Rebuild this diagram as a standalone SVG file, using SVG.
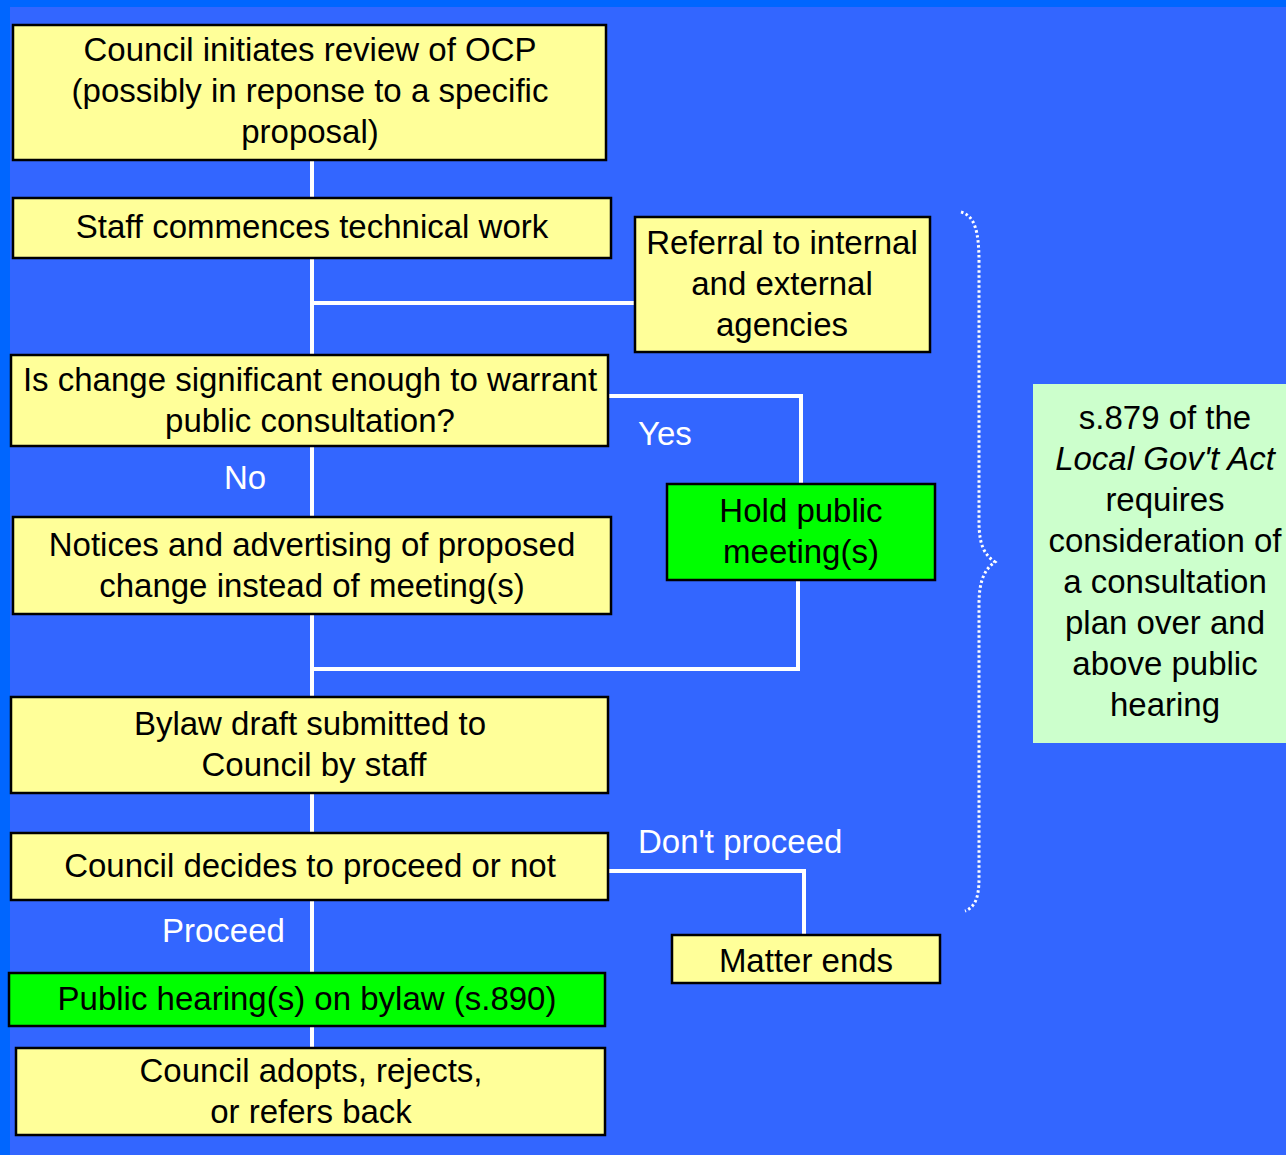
<svg xmlns="http://www.w3.org/2000/svg" width="1286" height="1155" viewBox="0 0 1286 1155">
<style>
.bx{fill:#ffff99;stroke:#000;stroke-width:2.5}
.gr{fill:#00ff00;stroke:#000;stroke-width:2.5}
.t{font-family:"Liberation Sans",Arial,sans-serif;font-size:33px;fill:#000;text-anchor:middle}
.lb{font-family:"Liberation Sans",Arial,sans-serif;font-size:33px;fill:#fff}
.c{fill:none;stroke:#fff;stroke-width:4}
</style>
<rect x="0" y="0" width="1286" height="1155" fill="#3366ff"/>
<rect x="0" y="0" width="1286" height="7" fill="#0066ff"/>
<rect x="0" y="0" width="10" height="1155" fill="#0066ff"/>
<g id="connectors">
<path class="c" d="M312,160 V1048"/>
<path class="c" d="M312,303 H635"/>
<path class="c" d="M608,396 H801 V484"/>
<path class="c" d="M798,580 V669 H312"/>
<path class="c" d="M608,871 H804 V935"/>
<path d="M961,212 C975,216 979,232 979,262 L979,522 C979,546 985,555 995,562 C985,569 979,580 979,604 L979,878 C979,898 975,907 965,911" fill="none" stroke="#fff" stroke-width="3" stroke-dasharray="2.5 2.5"/>
</g>
<g id="n1"><rect class="bx" x="13" y="25" width="593" height="135"/>
<text class="t" x="310" y="61">Council initiates review of OCP</text>
<text class="t" x="310" y="102">(possibly in reponse to a specific</text>
<text class="t" x="310" y="143">proposal)</text></g>
<g id="n2"><rect class="bx" x="13" y="198" width="598" height="60"/>
<text class="t" x="312" y="238">Staff commences technical work</text></g>
<g id="n3"><rect class="bx" x="635" y="217" width="295" height="135"/>
<text class="t" x="782" y="254">Referral to internal</text>
<text class="t" x="782" y="295">and external</text>
<text class="t" x="782" y="336">agencies</text></g>
<g id="n4"><rect class="bx" x="11" y="355" width="597" height="91"/>
<text class="t" x="310" y="391">Is change significant enough to warrant</text>
<text class="t" x="310" y="432">public consultation?</text></g>
<g id="n5"><rect class="bx" x="13" y="517" width="598" height="97"/>
<text class="t" x="312" y="556">Notices and advertising of proposed</text>
<text class="t" x="312" y="597">change instead of meeting(s)</text></g>
<g id="n6"><rect class="gr" x="667" y="484" width="268" height="96"/>
<text class="t" x="801" y="522">Hold public</text>
<text class="t" x="801" y="563">meeting(s)</text></g>
<g id="n7"><rect class="bx" x="11" y="697" width="597" height="96"/>
<text class="t" x="310" y="735">Bylaw draft submitted to</text>
<text class="t" x="314" y="776">Council by staff</text></g>
<g id="n8"><rect class="bx" x="11" y="833" width="597" height="67"/>
<text class="t" x="310" y="877">Council decides to proceed or not</text></g>
<g id="n9"><rect class="gr" x="9" y="973" width="596" height="53"/>
<text class="t" x="307" y="1010">Public hearing(s) on bylaw (s.890)</text></g>
<g id="n10"><rect class="bx" x="16" y="1048" width="589" height="87"/>
<text class="t" x="311" y="1082">Council adopts, rejects,</text>
<text class="t" x="311" y="1123">or refers back</text></g>
<g id="n11"><rect class="bx" x="672" y="935" width="268" height="48"/>
<text class="t" x="806" y="972">Matter ends</text></g>
<g id="labels">
<text class="lb" x="638" y="445">Yes</text>
<text class="lb" x="224" y="489">No</text>
<text class="lb" x="638" y="853">Don't proceed</text>
<text class="lb" x="162" y="942">Proceed</text>
</g>
<g id="note"><rect x="1033" y="384" width="253" height="359" fill="#ccffcc"/>
<text class="t" x="1165" y="429">s.879 of the</text>
<text class="t" x="1165" y="470" font-style="italic">Local Gov't Act</text>
<text class="t" x="1165" y="511">requires</text>
<text class="t" x="1165" y="552">consideration of</text>
<text class="t" x="1165" y="593">a consultation</text>
<text class="t" x="1165" y="634">plan over and</text>
<text class="t" x="1165" y="675">above public</text>
<text class="t" x="1165" y="716">hearing</text></g>
</svg>
